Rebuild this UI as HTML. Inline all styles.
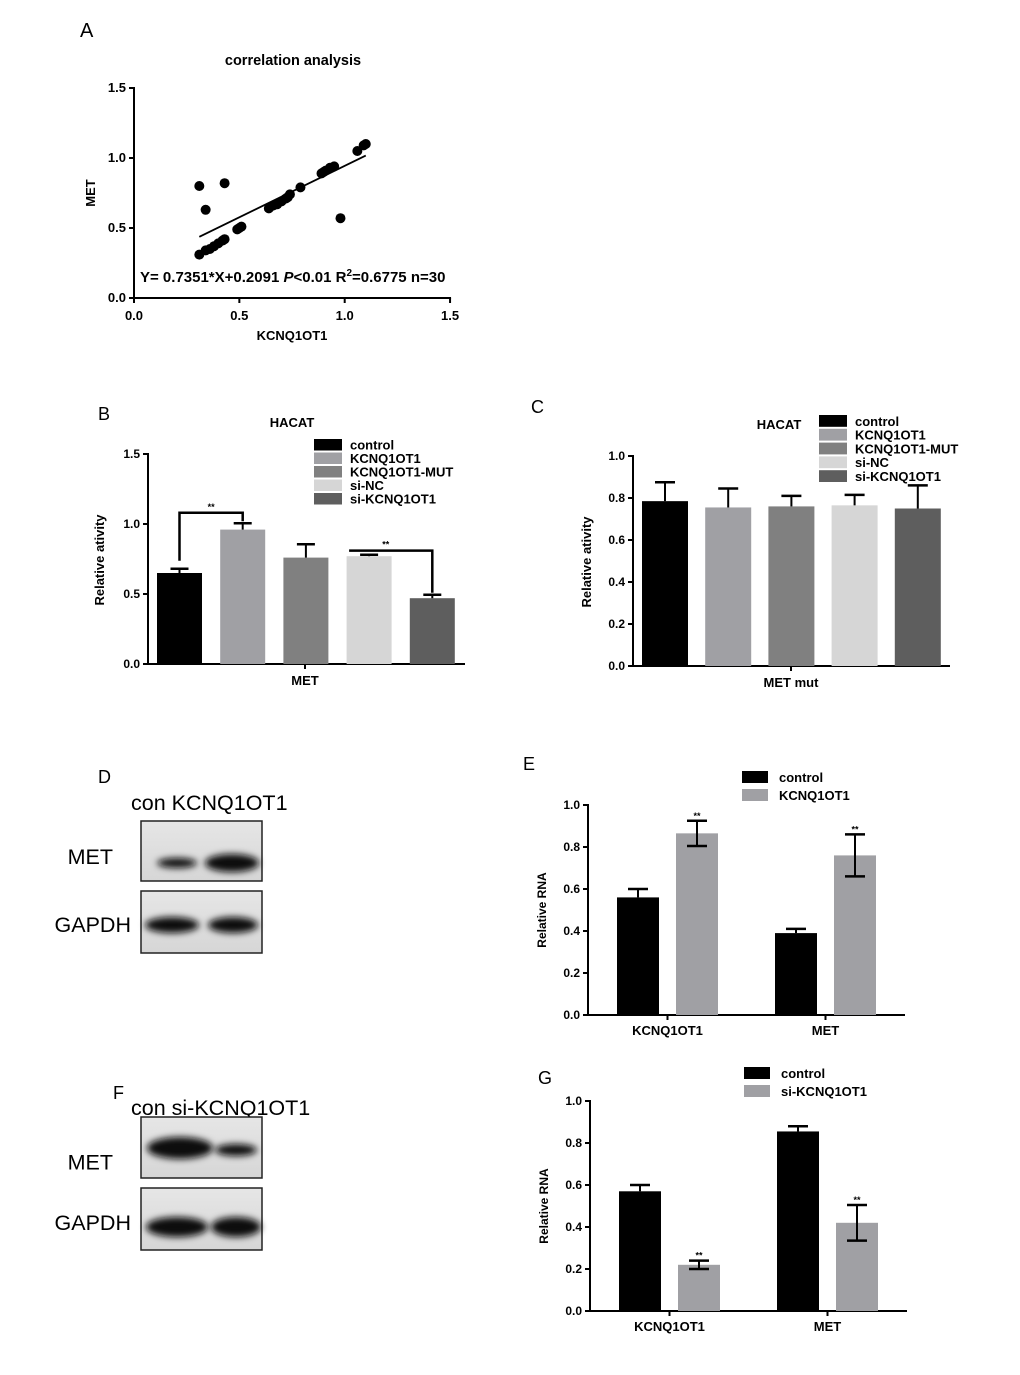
<!DOCTYPE html>
<html><head><meta charset="utf-8"><style>
html,body{margin:0;padding:0;background:#fff}
svg{display:block;font-family:"Liberation Sans",Arial,sans-serif}
</style></head><body>
<svg id="fig" width="1020" height="1375" viewBox="0 0 1020 1375" xmlns="http://www.w3.org/2000/svg">
<defs>
<filter id="blur" x="-30%" y="-100%" width="160%" height="300%"><feGaussianBlur stdDeviation="3.5"/></filter>
<linearGradient id="blotbg" x1="0" y1="0" x2="0" y2="1"><stop offset="0" stop-color="#e6e6e6"/><stop offset="1" stop-color="#d6d6d6"/></linearGradient>
</defs>
</svg>
<script>
// ---- Panel A data ----
const scatterX = [0.31,0.34,0.43,0.31,0.34,0.36,0.38,0.40,0.42,0.43,0.49,0.50,0.51,0.64,0.66,0.68,0.70,0.72,0.73,0.74,0.79,0.89,0.90,0.91,0.93,0.95,0.98,1.06,1.09,1.10];
const scatterY = [0.80,0.63,0.82,0.31,0.34,0.35,0.37,0.39,0.41,0.42,0.49,0.50,0.51,0.64,0.66,0.67,0.69,0.71,0.72,0.74,0.79,0.89,0.90,0.91,0.93,0.94,0.57,1.05,1.09,1.10];
const fitSlope = 0.7351, fitIntercept = 0.2091;
const aTicks = ["0.0","0.5","1.0","1.5"];
// ---- Panel B data ----
const groups = ["control","KCNQ1OT1","KCNQ1OT1-MUT","si-NC","si-KCNQ1OT1"];
const bValues = [0.65,0.96,0.76,0.77,0.47];
const bErrors = [0.03,0.045,0.095,0.01,0.025];
const bTicks = ["0.0","0.5","1.0","1.5"];
// ---- Panel C data ----
const cValues = [0.785,0.755,0.76,0.765,0.75];
const cErrors = [0.09,0.09,0.05,0.05,0.11];
const cTicks = ["0.0","0.2","0.4","0.6","0.8","1.0"];
// ---- Panel E data ----
const eCats = ["KCNQ1OT1","MET"];
const eControl = [0.56,0.39];
const eControlErr = [0.04,0.02];
const eTreat = [0.865,0.76];
const eTreatErr = [0.06,0.1];
// ---- Panel G data ----
const gControl = [0.57,0.855];
const gControlErr = [0.03,0.025];
const gTreat = [0.22,0.42];
const gTreatErr = [0.02,0.085];
const rnaTicks = ["0.0","0.2","0.4","0.6","0.8","1.0"];

const colors = ["#000000","#a0a0a4","#808080","#d6d6d6","#5e5e5e"];
const svg = document.getElementById('fig');
const NS = "http://www.w3.org/2000/svg";
function el(tag, attrs, parent){ const e=document.createElementNS(NS,tag); for(const k in attrs) e.setAttribute(k,attrs[k]); (parent||svg).appendChild(e); return e; }
function txt(s, attrs, parent){ const e=el('text',attrs,parent); e.textContent=s; return e; }
function line(x1,y1,x2,y2,w,parent){ return el('line',{x1,y1,x2,y2,stroke:'#000','stroke-width':w||2},parent); }

function yAxis(g, x, y0, pxPerUnit, ticks, step, fs){
  line(x,y0+1,x,y0-pxPerUnit*step*(ticks.length-1)-1,2,g);
  ticks.forEach((t,i)=>{ const y=y0-pxPerUnit*step*i; line(x-5,y,x,y,2,g);
    txt(t,{x:x-8,y:y+4,'font-size':fs||12,'font-weight':'bold','text-anchor':'end'},g); });
}
function errBar(g, cx, yTop, yErr, w){ line(cx,yTop,cx,yErr,2,g); line(cx-w,yErr,cx+w,yErr,2.5,g); }

// ---- Panel A ----
{
  const g=el('g',{});  
  const x0=134, y0=298, sx=210.7, sy=140;
  const X=v=>x0+v*sx, Y=v=>y0-v*sy;
  txt('A',{x:80,y:37,'font-size':20},g);
  txt('correlation analysis',{x:293,y:65,'font-size':14.5,'font-weight':'bold','text-anchor':'middle'},g);
  yAxis(g,x0,y0,sy,aTicks,0.5,13);
  line(x0-1,y0,X(1.5)+1,y0,2,g);
  aTicks.forEach((t,i)=>{ const x=X(i*0.5); line(x,y0,x,y0+5,2,g); txt(t,{x:x,y:y0+22,'font-size':13,'font-weight':'bold','text-anchor':'middle'},g); });
  txt('KCNQ1OT1',{x:292,y:340,'font-size':13,'font-weight':'bold','text-anchor':'middle'},g);
  txt('MET',{x:95,y:193,'font-size':13,'font-weight':'bold','text-anchor':'middle',transform:'rotate(-90 95 193)'},g);
  const xmin=Math.min(...scatterX), xmax=Math.max(...scatterX);
  const fl=el('line',{x1:X(xmin),y1:Y(fitSlope*xmin+fitIntercept),x2:X(xmax),y2:Y(fitSlope*xmax+fitIntercept),stroke:'#000','stroke-width':1.8},g);
   
  scatterX.forEach((v,i)=>{ const c=el('circle',{cx:X(v),cy:Y(scatterY[i]),r:5,fill:'#000'},g);
      });
  const eq=el('text',{x:140,y:282,'font-size':15,'font-weight':'bold'},g);
  eq.innerHTML='Y= 0.7351*X+0.2091 <tspan font-style="italic">P</tspan>&lt;0.01 R<tspan dy="-6" font-size="10">2</tspan><tspan dy="6">=0.6775 n=30</tspan>';
}

function legend(g, x, y, dy, labels){
  labels.forEach((l,i)=>{ const r=el('rect',{x:x,y:y+i*dy,width:28,height:dy-2,fill:colors[i]},g);
     
    txt(l,{x:x+36,y:y+i*dy+dy-3,'font-size':13,'font-weight':'bold'},g); });
}

// ---- Panel B ----
{
  const g=el('g',{});  
  const x0=148, y0=664, sy=140, bw=45, bx0=157, gap=63.2;
  const Y=v=>y0-v*sy;
  txt('B',{x:98,y:420,'font-size':18},g);
  txt('HACAT',{x:292,y:427,'font-size':13,'font-weight':'bold','text-anchor':'middle'},g);
  yAxis(g,x0,y0,sy,bTicks,0.5);
  line(x0-1,y0,465,y0,2,g); line(305,y0,305,y0+5,2,g);
  txt('MET',{x:305,y:685,'font-size':13,'font-weight':'bold','text-anchor':'middle'},g);
  txt('Relative ativity',{x:104,y:560,'font-size':13,'font-weight':'bold','text-anchor':'middle',transform:'rotate(-90 104 560)'},g);
  bValues.forEach((v,i)=>{ const x=bx0+i*gap; const r=el('rect',{x:x,y:Y(v),width:bw,height:v*sy,fill:colors[i]},g);
     
    errBar(g,x+bw/2,Y(v),Y(v+bErrors[i]),9); });
  const c0=bx0+bw/2, c1=bx0+gap+bw/2, c3=bx0+3*gap+bw/2, c4=bx0+4*gap+bw/2;
  const yb1=Y(1.08);
  el('polyline',{points:`${c0},${Y(bValues[0]+bErrors[0])-8} ${c0},${yb1} ${c1},${yb1} ${c1},${Y(bValues[1]+bErrors[1])-2}`,fill:'none',stroke:'#000','stroke-width':2.5},g);
  txt('**',{x:(c0+c1)/2,y:yb1-3,'font-size':9,'font-weight':'bold','text-anchor':'middle'},g);
  const yb2=Y(0.81);
  el('polyline',{points:`${c3-20},${yb2} ${c4},${yb2} ${c4},${Y(bValues[4]+bErrors[4])-2}`,fill:'none',stroke:'#000','stroke-width':2.5},g);
  txt('**',{x:(c3+c4)/2-15,y:yb2-3,'font-size':9,'font-weight':'bold','text-anchor':'middle'},g);
  legend(g,314,439,13.5,groups);
}

// ---- Panel C ----
{
  const g=el('g',{});  
  const x0=633, y0=666, sy=210, bw=46, bx0=642, gap=63.2;
  const Y=v=>y0-v*sy;
  txt('C',{x:531,y:413,'font-size':18},g);
  txt('HACAT',{x:779,y:429,'font-size':13,'font-weight':'bold','text-anchor':'middle'},g);
  yAxis(g,x0,y0,sy,cTicks,0.2);
  line(x0-1,y0,950,y0,2,g); line(791,y0,791,y0+5,2,g);
  txt('MET mut',{x:791,y:687,'font-size':13,'font-weight':'bold','text-anchor':'middle'},g);
  txt('Relative ativity',{x:591,y:562,'font-size':13,'font-weight':'bold','text-anchor':'middle',transform:'rotate(-90 591 562)'},g);
  cValues.forEach((v,i)=>{ const x=bx0+i*gap; const r=el('rect',{x:x,y:Y(v),width:bw,height:v*sy,fill:colors[i]},g);
     
    errBar(g,x+bw/2,Y(v),Y(v+cErrors[i]),10); });
  legend(g,819,415,13.8,groups);
}

// ---- RNA panels (E, G) ----
function rnaPanel(name, letter, lx, ly, x0, y0, ctrl, ctrlErr, trt, trtErr, trtLabel, legX, legY){
  const g=el('g',{});  
  const sy=210, bw=42, grpGap=158;
  const Y=v=>y0-v*sy;
  txt(letter,{x:lx,y:ly,'font-size':18},g);
  yAxis(g,x0,y0,sy,rnaTicks,0.2);
  line(x0-1,y0,x0+317,y0,2,g);
  txt('Relative RNA',{x:x0-42,y:y0-105,'font-size':12,'font-weight':'bold','text-anchor':'middle',transform:`rotate(-90 ${x0-42} ${y0-105})`},g);
  eCats.forEach((c,i)=>{
    const xa=x0+29+i*grpGap, xb=xa+59;
    const r1=el('rect',{x:xa,y:Y(ctrl[i]),width:bw,height:ctrl[i]*sy,fill:'#000'},g);
     
    const r2=el('rect',{x:xb,y:Y(trt[i]),width:bw,height:trt[i]*sy,fill:'#a0a0a4'},g);
     
    const cA=xa+bw/2, cB=xb+bw/2;
    line(cA,Y(ctrl[i]+ctrlErr[i]),cA,Y(ctrl[i]),2,g); line(cA-10,Y(ctrl[i]+ctrlErr[i]),cA+10,Y(ctrl[i]+ctrlErr[i]),2.5,g);
    line(cB,Y(trt[i]+trtErr[i]),cB,Y(trt[i]-trtErr[i]),2,g);
    line(cB-10,Y(trt[i]+trtErr[i]),cB+10,Y(trt[i]+trtErr[i]),2.5,g);
    line(cB-10,Y(trt[i]-trtErr[i]),cB+10,Y(trt[i]-trtErr[i]),2.5,g);
    txt('**',{x:cB,y:Y(trt[i]+trtErr[i])-2,'font-size':9,'font-weight':'bold','text-anchor':'middle'},g);
    const cx=(xa+xb+bw)/2; line(cx,y0,cx,y0+5,2,g);
    txt(c,{x:cx,y:y0+20,'font-size':13,'font-weight':'bold','text-anchor':'middle'},g);
  });
  el('rect',{x:legX,y:legY,width:26,height:12,fill:'#000'},g);
  txt('control',{x:legX+37,y:legY+11,'font-size':13,'font-weight':'bold'},g);
  el('rect',{x:legX,y:legY+18,width:26,height:12,fill:'#a0a0a4'},g);
  txt(trtLabel,{x:legX+37,y:legY+29,'font-size':13,'font-weight':'bold'},g);
}
rnaPanel('panel-e-bar-chart','E',523,770,588,1015,eControl,eControlErr,eTreat,eTreatErr,'KCNQ1OT1',742,771);
rnaPanel('panel-g-bar-chart','G',538,1084,590,1311,gControl,gControlErr,gTreat,gTreatErr,'si-KCNQ1OT1',744,1067);

// ---- Western blots ----
function blot(name, letter, lx, ly, header, hy, boxes){
  const g=el('g',{});  
  txt(letter,{x:lx,y:ly,'font-size':18},g);
  txt(header,{x:131,y:hy,'font-size':21.5},g);
  boxes.forEach(b=>{
    el('rect',{x:141,y:b.y,width:121,height:b.h,fill:'url(#blotbg)',stroke:'#222','stroke-width':1.5},g);
    txt(b.label,{x:b.lx,y:b.y+b.h/2+b.dy,'font-size':21.5,'text-anchor':'end'},g);
    b.bands.forEach(bd=>{ const e=el('ellipse',{cx:bd[0],cy:b.y+bd[1],rx:bd[2],ry:bd[3],fill:'#111',filter:'url(#blur)'},g);
        });
  });
}
blot('panel-d-western-blot','D',98,783,'con KCNQ1OT1',810,[
  {y:821,h:60,label:'MET',lx:113,dy:13,bands:[[177,42,20,5],[232,42,27,9]]},
  {y:891,h:62,label:'GAPDH',lx:131,dy:10,bands:[[172,34,27,8],[233,34,25,8]]}]);
blot('panel-f-western-blot','F',113,1099,'con si-KCNQ1OT1',1115,[
  {y:1117,h:61,label:'MET',lx:113,dy:22,bands:[[180,31,33,11],[236,33,21,6]]},
  {y:1188,h:62,label:'GAPDH',lx:131,dy:11,bands:[[177,39,31,10],[236,39,25,10]]}]);
</script>
</body></html>
